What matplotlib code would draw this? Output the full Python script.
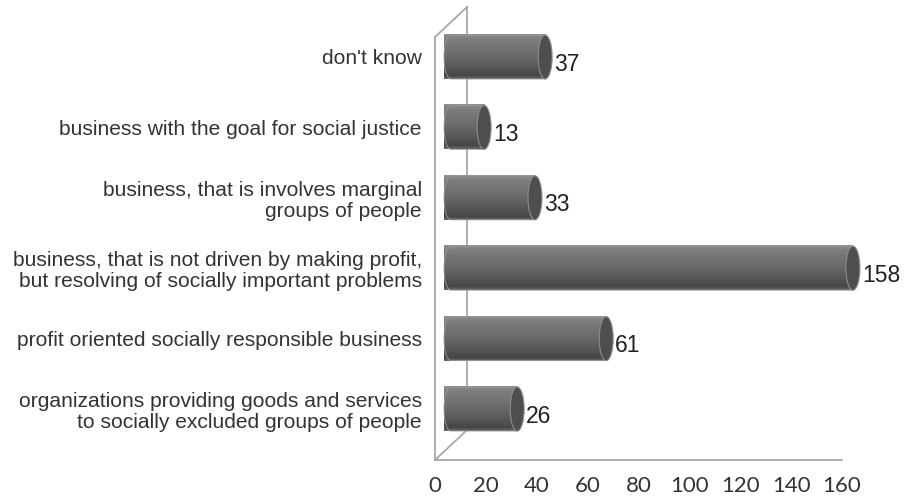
import numpy as np
import matplotlib
matplotlib.use("Agg")
import matplotlib.pyplot as plt
from matplotlib.patches import Polygon, Ellipse
from matplotlib.colors import LinearSegmentedColormap

# data, bottom to top
categories = [
    "organizations providing goods and services\nto socially excluded groups of people",
    "profit oriented socially responsible business",
    "business, that is not driven by making profit,\nbut resolving of socially important problems",
    "business, that is involves marginal\ngroups of people",
    "business with the goal for social justice",
    "don't know",
]
values = [26, 61, 158, 33, 13, 37]
xticks = [0, 20, 40, 60, 80, 100, 120, 140, 160]

plt.rcParams['font.family'] = ['Liberation Sans', 'DejaVu Sans']

fig = plt.figure(figsize=(9.06, 4.99), dpi=100)
ax = fig.add_axes([435 / 906, 39 / 499, 407 / 906, 453 / 499])

wall = '#a8a8a8'
depth_x, depth_y = 12.6, 0.426
y_floor, y_top = -0.724, 5.71

# 3d wall and floor
ax.plot([0, 0], [y_floor, y_top - depth_y], color=wall, lw=1.3, clip_on=False)
ax.plot([depth_x, depth_x], [y_floor + depth_y, y_top], color=wall, lw=1.3, clip_on=False)
ax.plot([0, depth_x], [y_top - depth_y, y_top], color=wall, lw=1.3, clip_on=False)
ax.plot([0, depth_x], [y_floor, y_floor + depth_y], color=wall, lw=1.3, clip_on=False)
ax.plot([0, 160], [y_floor, y_floor], color=wall, lw=1.3, clip_on=False)

cmap = LinearSegmentedColormap.from_list(
    'cyl', [(0, '#8e8e8e'), (0.12, '#7c7c7c'), (0.45, '#6c6c6c'),
            (0.8, '#525252'), (0.93, '#454545'), (1, '#6a6a6a')])
grad = np.linspace(0, 1, 64).reshape(-1, 1)

shift = 6.3
h = 0.625
ew = 5.5
t = np.linspace(np.pi / 2, 3 * np.pi / 2, 40)

for i, v in enumerate(values):
    x0 = shift
    x1 = shift + v
    pts = np.column_stack([x0 + ew / 2 * np.cos(t), i + h / 2 * np.sin(t)])
    pts = np.vstack([pts, [[x1, i - h / 2], [x1, i + h / 2]]])
    body = Polygon(pts, closed=True, facecolor='none', edgecolor='#9a9a9a',
                   lw=0.6, zorder=3, clip_on=False)
    ax.add_patch(body)
    im = ax.imshow(grad, extent=(x0 - ew / 2, x1, i - h / 2, i + h / 2),
                   aspect='auto', cmap=cmap, origin='upper', zorder=2,
                   interpolation='bilinear', clip_on=False)
    im.set_clip_path(body)
    im.set_clip_box(None)
    cap = Ellipse((x1, i), ew, h, facecolor='#4e4e4e', edgecolor='#8c8c8c',
                  lw=0.8, zorder=4, clip_on=False)
    ax.add_patch(cap)
    ax.text(x1 + ew / 2 + 0.8, i - 0.1, str(v), ha='left', va='center',
            fontsize=16.5, color='#222222', zorder=5)

ax.set_xlim(0, 160)
ax.set_ylim(y_floor, y_top)
for s in ax.spines.values():
    s.set_visible(False)

ax.set_xticks(xticks)
ax.set_xticklabels([str(x) for x in xticks], family=['Lato', 'DejaVu Sans'],
                   fontsize=16, color='#333333')
ax.set_yticks(range(len(categories)))
ax.set_yticklabels(categories, fontsize=15.1, color='#333333', linespacing=1.13)
ax.tick_params(axis='x', length=0, pad=11.5)
ax.tick_params(axis='y', length=0, pad=9.5)

fig.savefig('out.png', dpi=100, facecolor='white')
